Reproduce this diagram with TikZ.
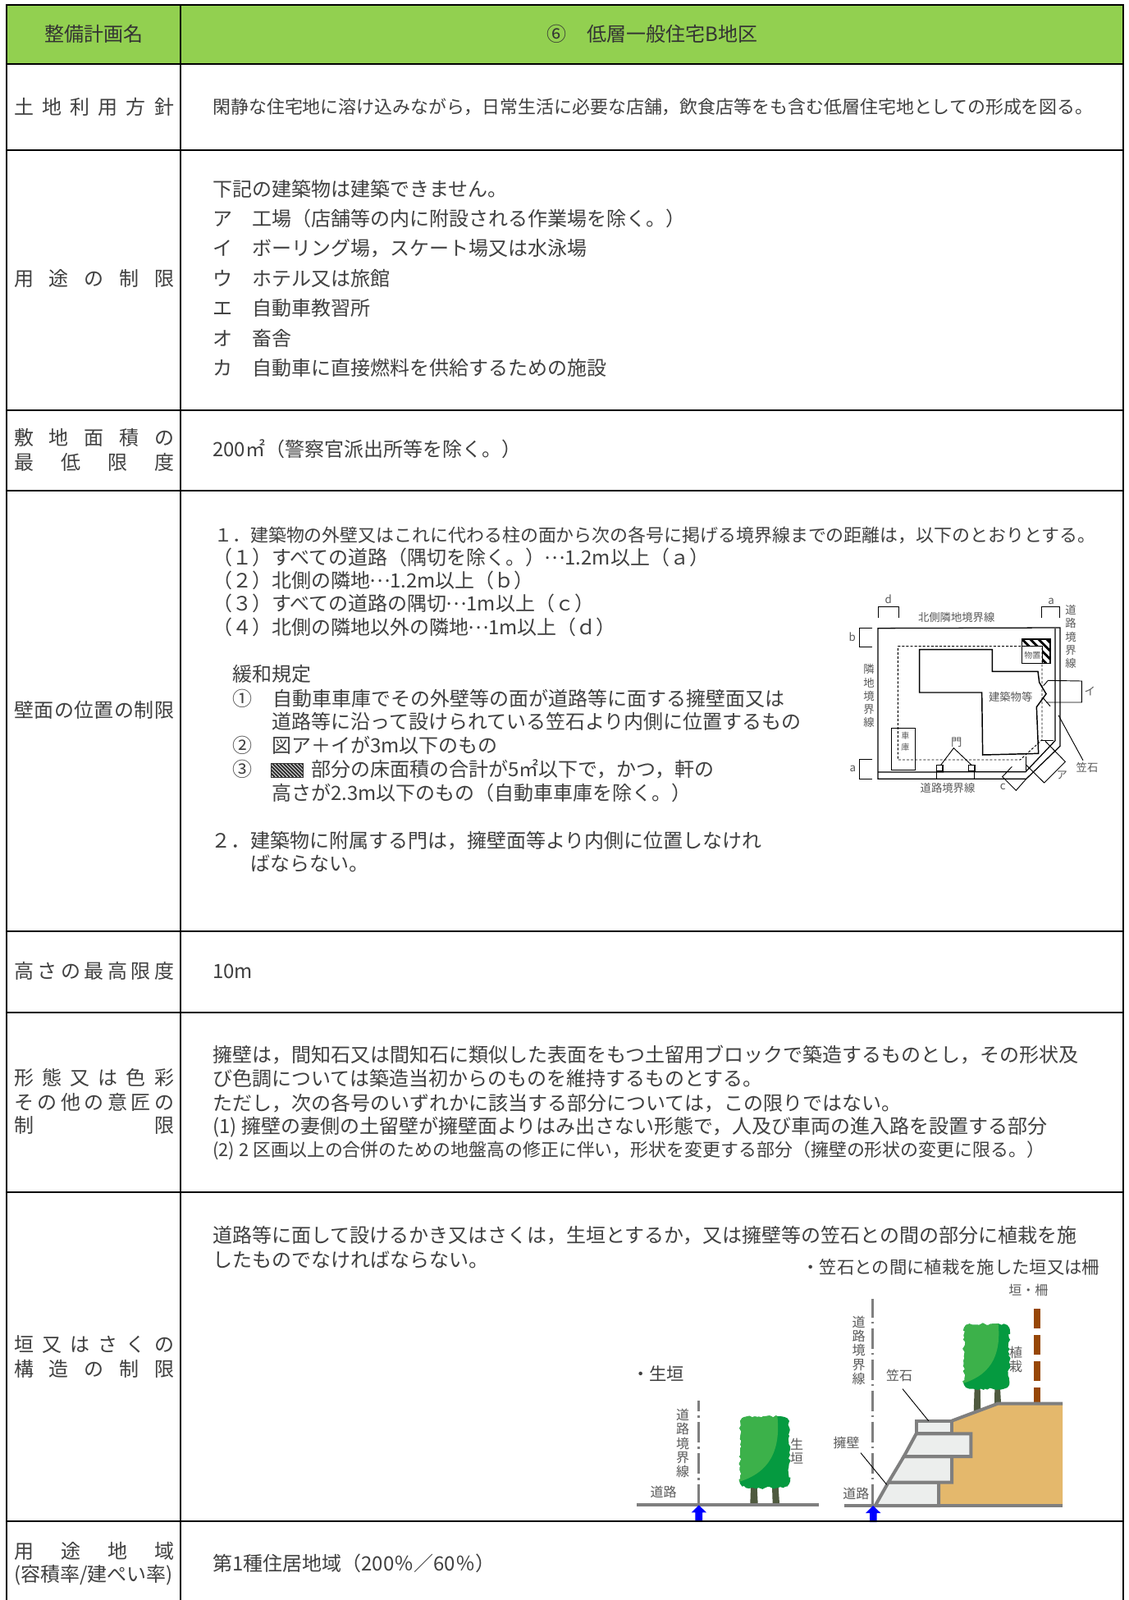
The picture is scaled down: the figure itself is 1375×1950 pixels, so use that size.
\documentclass[tikz,border=0pt]{standalone}
\usepackage{fontspec}
\setmainfont{Noto Sans CJK JP}
\usetikzlibrary{decorations.pathmorphing}
\definecolor{txtc}{HTML}{404040}
\definecolor{headg}{HTML}{92D050}
\definecolor{figc}{HTML}{595959}
\definecolor{wallc}{HTML}{7F7F7F}
\definecolor{stonec}{HTML}{ECEEED}
\definecolor{soilc}{HTML}{E4B86C}
\definecolor{fencec}{HTML}{974706}
\definecolor{leafa}{HTML}{3CB14A}
\definecolor{leafb}{HTML}{059A40}
\definecolor{trunkc}{HTML}{4F5A3F}
\tikzset{
  body/.style={inner sep=0pt,anchor=west,text=txtc,text height=.88em,text depth=.12em,yshift=-2.4pt,font=\fontsize{18pt}{20pt}\selectfont},
  tight/.style={font=\fontsize{16.45pt}{20pt}\selectfont},
  rowline/.style={line width=2.2pt,black},
  figlabel/.style={inner sep=0pt,text=figc,align=center,font=\fontsize{10pt}{12.2pt}\selectfont},
  bigfig/.style={inner sep=0pt,text=figc,align=center,font=\fontsize{12pt}{13pt}\selectfont},
  headfig/.style={inner sep=0pt,anchor=west,text=txtc,font=\fontsize{16pt}{17pt}\selectfont},
  thin fig/.style={line width=.95pt,black},
  wall/.style={line width=3pt,wallc,line join=miter},
  sign/.style={line width=2.25pt,wallc},
  jag/.style={decorate,decoration={random steps,segment length=2.4pt,amplitude=1.2pt}}
}
\newcommand{\tx}[4]{\node[body] (#1) at (#2,#3) {#4};}
\newcommand{\txs}[4]{\node[body,tight] (#1) at (#2,#3) {#4};}
\newcommand{\lab}[4]{\node[body] (#1) at (17,#2) {\makebox[#3][s]{#4}};}
\newcommand{\hf}{\hfill}
\newcommand{\dotsfw}{\makebox[1em]{\raisebox{.3em}{…}}}
\newcommand{\crown}{%
  \begin{scope}
    \clip[jag] (0,.06) -- (.04,.02) -- (.12,0) -- (.88,0) -- (.96,.02) -- (1,.06) -- (1,.94) -- (.96,.98) -- (.88,1) -- (.12,1) -- (.04,.98) -- (0,.94) -- cycle;
    \fill[leafb] (-.1,-.1) rectangle (1.1,1.1);
    \fill[leafa] (-.1,-.1) -- (.74,-.1) .. controls (.88,.55) and (.5,.82) .. (-.1,.93) -- cycle;
  \end{scope}}
\begin{document}
\begin{tikzpicture}[x=.75pt,y=-.75pt]
\useasboundingbox (0,0) rectangle (1375,1950);
\fill[white] (0,0) rectangle (1375,1950);
\fill[headg] (8,6) rectangle (1369,78);

% header
\node[body,anchor=center,text=black!80] (h1) at (114,42) {整備計画名};
\node[body,text=black!80] (h2) at (666,42) {⑥};
\node[body,text=black!80] (h3) at (715,42) {低層一般住宅B地区};

% left column
\lab{l1}{131}{146.2pt}{土\hf 地\hf 利\hf 用\hf 方\hf 針}
\lab{l2}{340}{146.2pt}{用\hf 途\hf の\hf 制\hf 限}
\lab{l3a}{534}{146.2pt}{敷\hf 地\hf 面\hf 積\hf の}
\lab{l3b}{564}{146.2pt}{最\hf 低\hf 限\hf 度}
\lab{l4}{866}{146.2pt}{壁\hf 面\hf の\hf 位\hf 置\hf の\hf 制\hf 限}
\lab{l5}{1184}{146.2pt}{高\hf さ\hf の\hf 最\hf 高\hf 限\hf 度}
\lab{l6a}{1314}{146.2pt}{形\hf 態\hf 又\hf は\hf 色\hf 彩}
\lab{l6b}{1344}{146.2pt}{そ\hf の\hf 他\hf の\hf 意\hf 匠\hf の}
\lab{l6c}{1372}{146.2pt}{制\hf 限}
\lab{l7a}{1639}{146.2pt}{垣\hf 又\hf は\hf さ\hf く\hf の}
\lab{l7b}{1669}{146.2pt}{構\hf 造\hf の\hf 制\hf 限}
\lab{l8a}{1891}{146.2pt}{用\hf 途\hf 地\hf 域}
\lab{l8b}{1919}{146.2pt}{(容積率/建ぺい率)}

% right column
\txs{r1}{259}{130}{閑静な住宅地に溶け込みながら，日常生活に必要な店舗，飲食店等をも含む低層住宅地としての形成を図る。}
\tx{r2a}{259}{231}{下記の建築物は建築できません。}
\tx{r2b}{259}{267}{ア　工場（店舗等の内に附設される作業場を除く。）}
\tx{r2c}{259}{303}{イ　ボーリング場，スケート場又は水泳場}
\tx{r2d}{259}{340}{ウ　ホテル又は旅館}
\tx{r2e}{259}{376}{エ　自動車教習所}
\tx{r2f}{259}{413}{オ　畜舎}
\tx{r2g}{259}{449}{カ　自動車に直接燃料を供給するための施設}
\tx{r3}{259}{548}{200㎡（警察官派出所等を除く。）}

\txs{r4a}{261}{652}{１．建築物の外壁又はこれに代わる柱の面から次の各号に掲げる境界線までの距離は，以下のとおりとする。}
\tx{r4b}{259}{680}{（１）すべての道路（隅切を除く。）\dotsfw 1.2m以上（ａ）}
\tx{r4c}{259}{708}{（２）北側の隣地\dotsfw 1.2m以上（ｂ）}
\tx{r4d}{259}{736}{（３）すべての道路の隅切\dotsfw 1m以上（ｃ）}
\tx{r4e}{259}{765}{（４）北側の隣地以外の隣地\dotsfw 1m以上（ｄ）}
\tx{r4f}{283}{822}{緩和規定}
\tx{r4g}{283}{852}{①}
\tx{r4h}{332}{852}{自動車車庫でその外壁等の面が道路等に面する擁壁面又は}
\tx{r4i}{331}{880}{道路等に沿って設けられている笠石より内側に位置するもの}
\tx{r4j}{283}{909}{②}
\tx{r4k}{331}{909}{図ア＋イが3m以下のもの}
\tx{r4l}{283}{938}{③}
\tx{r4m}{379}{938}{部分の床面積の合計が5㎡以下で，かつ，軒の}
\tx{r4n}{331}{967}{高さが2.3m以下のもの（自動車車庫を除く。）}
\tx{r4o}{257}{1025}{２．建築物に附属する門は，擁壁面等より内側に位置しなけれ}
\tx{r4p}{305}{1053}{ばならない。}
% hatch legend
\begin{scope}
  \clip (330,930) rectangle (369,947);
  \foreach \i in {-30,-25.5,...,50} \draw[line width=1.6pt,black!80] (330+\i,930) -- (347+\i,947);
\end{scope}
\draw[line width=.6pt,black!80] (330,930) rectangle (369,947);

\tx{r5}{259}{1184}{10m}
\tx{r6a}{259}{1286}{擁壁は，間知石又は間知石に類似した表面をもつ土留用ブロックで築造するものとし，その形状及}
\tx{r6b}{259}{1315}{び色調については築造当初からのものを維持するものとする。}
\tx{r6c}{259}{1345}{ただし，次の各号のいずれかに該当する部分については，この限りではない。}
\tx{r6d}{259}{1373}{(1) 擁壁の妻側の土留壁が擁壁面よりはみ出さない形態で，人及び車両の進入路を設置する部分}
\txs{r6e}{259}{1401}{(2) 2 区画以上の合併のための地盤高の修正に伴い，形状を変更する部分（擁壁の形状の変更に限る。）}
\tx{r7a}{259}{1506}{道路等に面して設けるかき又はさくは，生垣とするか，又は擁壁等の笠石との間の部分に植栽を施}
\tx{r7b}{259}{1536}{したものでなければならない。}
\tx{r8}{259}{1906}{第1種住居地域（200％／60％）}

% ---------- site plan ----------
\begin{scope}[shift={(1000,700)},x=.25pt,y=-.25pt]
  % storage hatch
  \begin{scope}
    \clip (737,237) -- (840,237) -- (840,325) -- (812,325) -- (812,262) -- (737,262) -- cycle;
    \foreach \i in {-120,-90,...,120} \draw[line width=2.2pt,black] (737+\i,237) -- (825+\i,325);
  \end{scope}
  \draw[thin fig] (737,237) rectangle (840,325);
  \draw[thin fig,line width=.7pt] (737,262) -- (812,262) -- (812,325);
  \node[inner sep=0pt,text=figc,font=\fontsize{7.5pt}{9pt}\selectfont] (storeL) at (775,297) {物置};
  % outer boundary
  \draw[thin fig] (210,748) -- (210,197) -- (876,195) -- (876,628) -- (752,748) -- cycle;
  \draw[line width=.9pt,black!65] (858,195) -- (858,608);
  \draw[thin fig] (858,608) -- (750,722) -- (210,723);
  % setback dashed
  \draw[line width=.7pt,black,dash pattern=on 2.2pt off 1.6pt] (283,263) -- (810,263) -- (810,605) -- (730,678) -- (283,678) -- cycle;
  % building
  \draw[line width=1.1pt,black] (362,275) -- (628,275) -- (628,355) -- (795,355) -- (800,395) -- (825,437) -- (790,485) -- (797,655) -- (593,660) -- (590,432) -- (362,432) -- cycle;
  % garage
  \draw[thin fig] (260,562) rectangle (347,716);
  \node[inner sep=0pt,text=figc,align=center,font=\fontsize{7.5pt}{10.5pt}\selectfont] (garL) at (310,611) {車\\庫};
  % gates
  \draw[thin fig,fill=white] (425,698) rectangle (447,720);
  \draw[thin fig,fill=white] (542,698) rectangle (564,720);
  \draw[thin fig] (425,720) -- (425,748);
  \draw[thin fig] (562,720) -- (562,748);
  \node[figlabel] (gateL) at (497,615) {門};
  \draw[thin fig,line width=.7pt] (440,697) -- (487,635) -- (552,697);
  % brackets
  \draw[thin fig,line width=.7pt] (211,160) -- (211,117) -- (285,117) -- (285,160);
  \node[figlabel] (dL) at (248,90) {d};
  \draw[thin fig,line width=.7pt] (808,160) -- (808,117) -- (875,117) -- (875,160);
  \node[figlabel] (aL) at (843,98) {a};
  \draw[thin fig,line width=.7pt] (190,197) -- (143,197) -- (143,265) -- (190,265);
  \node[figlabel] (bL) at (116,230) {b};
  \draw[thin fig,line width=.7pt] (190,677) -- (143,677) -- (143,747) -- (190,747);
  \node[figlabel] (a2L) at (118,710) {a};
  % イ
  \draw[thin fig,line width=.7pt] (815,407) -- (832,388) -- (955,390) -- (955,468) -- (825,468);
  \draw[thin fig,line width=.7pt] (812,450) -- (840,482);
  \node[figlabel] (iL) at (985,428) {イ};
  % ア
  \draw[thin fig,line width=.7pt] (808,608) -- (852,608);
  \draw[thin fig,line width=.7pt] (822,610) -- (895,685) -- (818,762) -- (750,695);
  \node[figlabel] (aaL) at (883,735) {ア};
  % c
  \draw[thin fig,line width=.7pt] (700,703) -- (665,740) -- (715,790) -- (752,748);
  \draw[thin fig,line width=.7pt] (750,665) -- (750,722);
  \node[figlabel] (cL) at (667,778) {c};
  % 笠石
  \draw[thin fig,line width=.7pt] (870,515) -- (960,680);
  \node[figlabel] (ksL) at (975,705) {笠石};
  \node[figlabel] (northL) at (497,157) {北側隣地境界線};
  \node[figlabel] (roadL) at (465,780) {道路境界線};
  \node[figlabel] (roadV) at (915,228) {道\\路\\境\\界\\線};
  \node[figlabel] (sideV) at (177,445) {隣\\地\\境\\界\\線};
  \node[figlabel] (bldL) at (695,448) {建築物等};
\end{scope}

% ---------- hedge figure ----------
\begin{scope}[shift={(750,1520)},x=.25pt,y=-.25pt]
  \node[headfig] (hedgeH) at (60,462) {・生垣};
  \draw[sign,dash pattern=on 18.75pt off 3.75pt on 2pt off 4pt,dash phase=9.25pt] (304,562) -- (304,941);
  \fill[trunkc] (495,875) -- (518,875) -- (521,937) -- (493,937) -- cycle;
  \fill[trunkc] (573,875) -- (596,875) -- (600,937) -- (575,937) -- cycle;
  \begin{scope}[shift={(456,620)},x=45pt,y=-65pt]
    \crown
  \end{scope}
  \draw[wall] (78,941) -- (745,941);
  \fill[blue] (305,943) -- (333,970) -- (318,970) -- (318,1000) -- (292,1000) -- (292,970) -- (278,970) -- cycle;
  \node[bigfig] (road1V) at (246,717) {道\\路\\境\\界\\線};
  \node[bigfig] (road1L) at (176,895) {道路};
  \node[bigfig] (hedgeV) at (663,745) {生\\垣};
\end{scope}

% ---------- retaining wall figure ----------
\begin{scope}[shift={(1000,1520)},x=.25pt,y=-.25pt]
  \node[headfig] (fenceH) at (-68,72) {・笠石との間に植栽を施した垣又は柵};
  \draw[sign,dash pattern=on 18.75pt off 3.75pt on 2pt off 4pt,dash phase=2pt] (190,190) -- (190,945);
  % trunks
  \fill[trunkc] (563,515) -- (584,515) -- (586,600) -- (560,605) -- cycle;
  \fill[trunkc] (637,515) -- (657,515) -- (660,570) -- (636,575) -- cycle;
  \begin{scope}[shift={(525,280)},x=41.25pt,y=-59.5pt]
    \crown
  \end{scope}
  % fence
  \foreach \a/\b in {224/296,320/392,416/488,512/566}
    \fill[fencec] (779,\a) rectangle (803,\b);
  % soil
  \fill[soilc] (885,572) -- (648,572) -- (480,640) -- (480,682) -- (550,682) -- (550,765) -- (480,765) -- (480,860) -- (432,860) -- (432,945) -- (885,945) -- cycle;
  % stones
  \begin{scope}[wall,fill=stonec]
    \filldraw (200,945) -- (248,860) -- (432,860) -- (432,945) -- cycle;
    \filldraw (248,860) -- (305,765) -- (480,765) -- (480,860) -- cycle;
    \filldraw (305,765) -- (350,682) -- (550,682) -- (550,765) -- cycle;
    \filldraw (350,682) -- (350,635) -- (480,635) -- (480,682) -- cycle;
  \end{scope}
  \draw[wall] (480,635) -- (648,572) -- (885,572);
  \draw[wall] (87,945) -- (885,945);
  \fill[blue] (192,945) -- (220,972) -- (206,972) -- (206,1005) -- (180,1005) -- (180,972) -- (165,972) -- cycle;
  \draw[line width=.7pt,black] (300,518) -- (395,635);
  \draw[line width=.7pt,black] (147,752) -- (242,868);
  \node[bigfig] (fenceL) at (760,158) {垣・柵};
  \node[bigfig] (plantV) at (714,411) {植\\栽};
  \node[bigfig] (capL) at (288,470) {笠石};
  \node[bigfig] (wallL) at (95,715) {擁壁};
  \node[bigfig] (road2L) at (130,900) {道路};
  \node[bigfig] (road2V) at (140,377) {道\\路\\境\\界\\線};
\end{scope}

% table rules
\draw[rowline] (8,6) -- (1369,6);
\draw[rowline] (8,5) -- (8,1950);
\draw[rowline] (220,5) -- (220,1950);
\draw[rowline] (1369,5) -- (1369,1950);
\foreach \yy in {78,183,500,598,1135,1234,1453,1854}
  \draw[rowline] (8,\yy) -- (1369,\yy);
\end{tikzpicture}
\end{document}
